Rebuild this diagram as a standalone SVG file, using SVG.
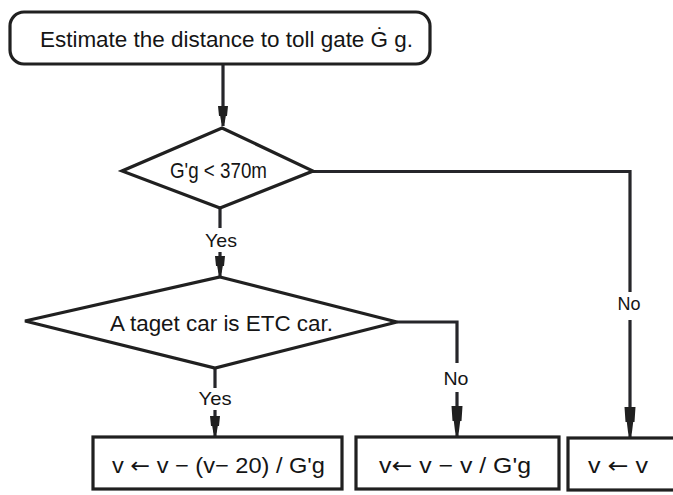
<svg xmlns="http://www.w3.org/2000/svg" width="673" height="495" viewBox="0 0 673 495">
<style>
  .shape { fill: none; stroke: #202020; stroke-width: 3.2; stroke-linejoin: miter; }
  .conn { fill: none; stroke: #26262a; stroke-width: 3.2; }
  .t { font-family: "Liberation Sans", Arial, sans-serif; fill: #151515; }
  .lbl { font-size: 19px; }
  .main { font-size: 22px; }
  .ar { font-family: "DejaVu Sans", sans-serif; }
</style>
<defs>
  <marker id="arrowBig" markerUnits="userSpaceOnUse" viewBox="-30 -7 32 14" markerWidth="32" markerHeight="14" refX="0" refY="0" orient="auto">
    <path d="M-30,-5.5 L-15,-4.5 L-15,-3.2 L-5,-2 L0,0 L-5,2 L-15,3.2 L-15,4.5 L-30,5.5 Z" fill="#202020"/>
  </marker>
  <marker id="arrowSmall" markerUnits="userSpaceOnUse" viewBox="-20 -7 22 14" markerWidth="22" markerHeight="14" refX="0" refY="0" orient="auto">
    <path d="M-20,-5 L-10,-4 L-10,-2.8 L-4,-1.8 L0,0 L-4,1.8 L-10,2.8 L-10,4 L-20,5 Z" fill="#202020"/>
  </marker>
</defs>
<rect width="673" height="495" fill="#ffffff"/>

<g id="connectors">
  <path class="conn" d="M223,64 V126" marker-end="url(#arrowSmall)"/>
  <path class="conn" d="M220,208 V228"/>
  <path class="conn" d="M220,252 V276" marker-end="url(#arrowSmall)"/>
  <path class="conn" d="M313,171.5 H630 V292"/>
  <path class="conn" d="M630,320 V437" marker-end="url(#arrowBig)"/>
  <path class="conn" d="M215,368 V388"/>
  <path class="conn" d="M215,410 V436" marker-end="url(#arrowSmall)"/>
  <path class="conn" d="M397,322 H457 V363"/>
  <path class="conn" d="M457,392 V436" marker-end="url(#arrowBig)"/>
  <text class="t lbl" x="221" y="247" text-anchor="middle" textLength="32" lengthAdjust="spacingAndGlyphs">Yes</text>
  <text class="t lbl" x="629" y="310" text-anchor="middle" textLength="23" lengthAdjust="spacingAndGlyphs">No</text>
  <text class="t lbl" x="215" y="405" text-anchor="middle" textLength="33" lengthAdjust="spacingAndGlyphs">Yes</text>
  <text class="t lbl" x="456" y="385" text-anchor="middle" textLength="25" lengthAdjust="spacingAndGlyphs">No</text>
</g>

<g id="start">
  <rect class="shape" x="10" y="12" width="420" height="52" rx="14" ry="14"/>
  <text class="t main" x="40" y="47" textLength="373" lengthAdjust="spacingAndGlyphs">Estimate the distance to toll gate Ġ g.</text>
</g>

<g id="decision1">
  <polygon class="shape" points="222,128 313,171 220,208 122,171"/>
  <text class="t main" x="170" y="178" textLength="97" lengthAdjust="spacingAndGlyphs">G'g &lt; 370m</text>
</g>

<g id="decision2">
  <polygon class="shape" points="220,277 397,322 215,368 25,321"/>
  <text class="t main" x="110" y="331" textLength="223" lengthAdjust="spacingAndGlyphs">A taget car is ETC car.</text>
</g>

<g id="box1">
  <rect class="shape" x="93" y="437" width="249" height="52"/>
  <text class="t main" x="112" y="473" textLength="213" lengthAdjust="spacingAndGlyphs">v <tspan class="ar">←</tspan>  v − (v− 20) / G'g</text>
</g>

<g id="box2">
  <rect class="shape" x="356" y="437" width="203" height="52"/>
  <text class="t main" x="379" y="473" textLength="152" lengthAdjust="spacingAndGlyphs">v<tspan class="ar">←</tspan>  v − v / G'g</text>
</g>

<g id="box3">
  <rect class="shape" x="568" y="438" width="120" height="52"/>
  <text class="t main" x="588" y="473" textLength="60" lengthAdjust="spacingAndGlyphs">v <tspan class="ar">←</tspan> v</text>
</g>
</svg>
